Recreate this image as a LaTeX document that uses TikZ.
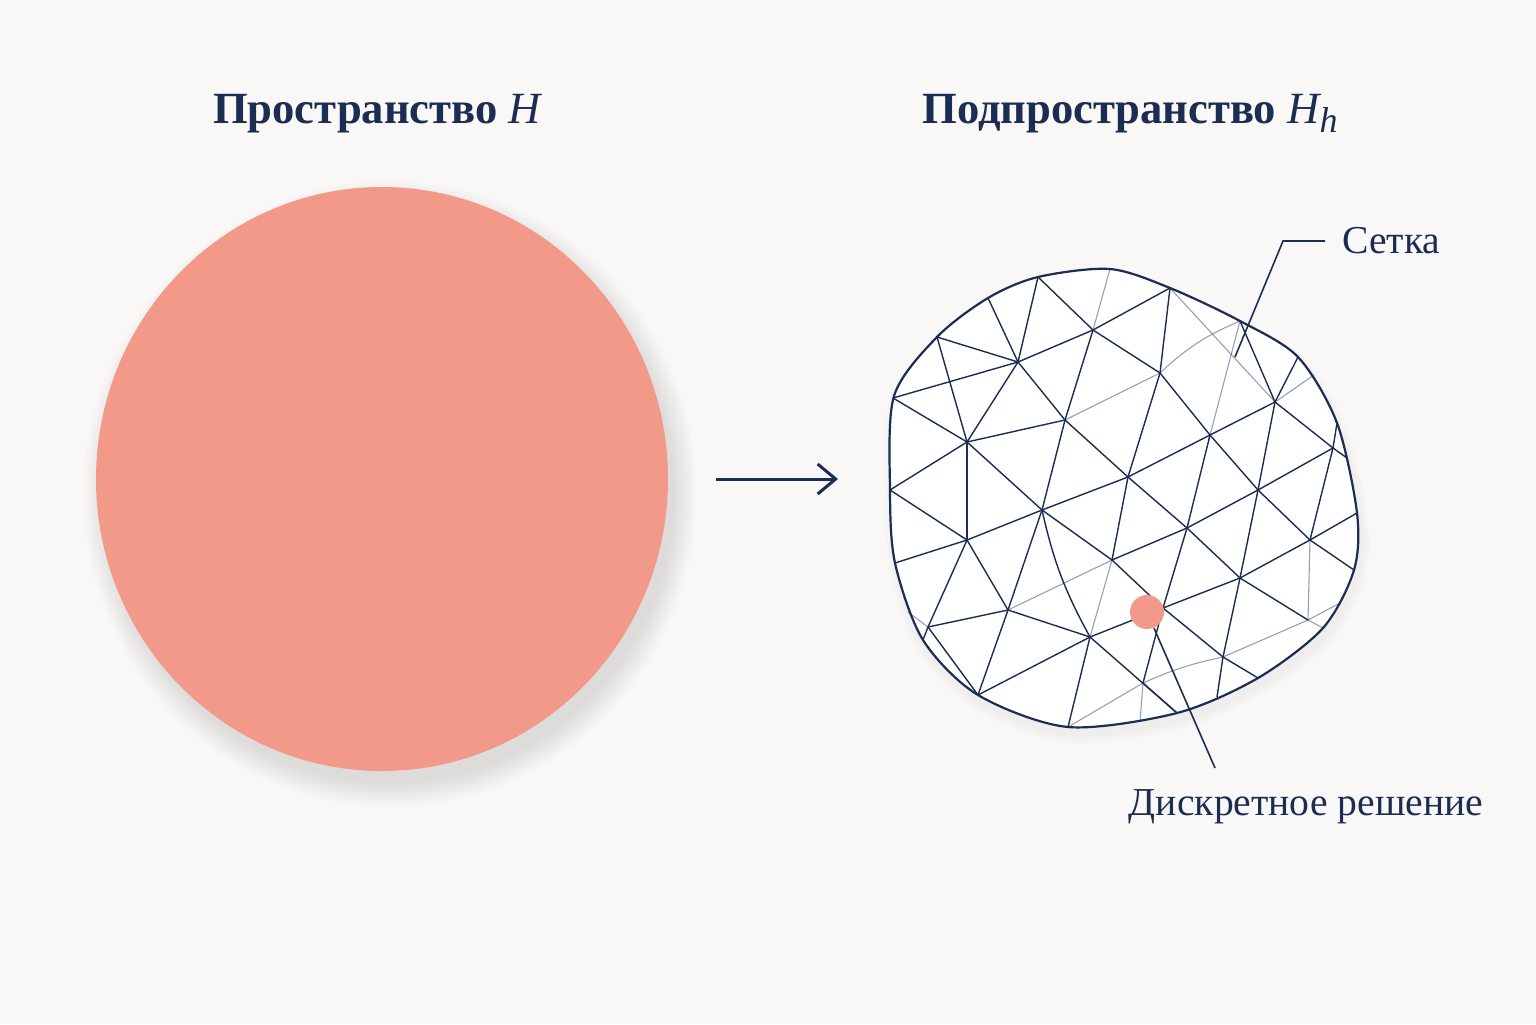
\documentclass[tikz,border=0pt]{standalone}
\usepackage{fontspec}
\setmainfont{Liberation Serif}
\usetikzlibrary{arrows.meta}
\definecolor{navy}{HTML}{1B2D52}
\definecolor{salmon}{HTML}{F3998A}
\definecolor{bgc}{HTML}{F9F8F6}
\tikzset{
  titletext/.style={font=\fontsize{22.3}{26}\selectfont\bfseries, text=navy, inner sep=0pt},
  labeltext/.style={font=\fontsize{19.8}{24}\selectfont, text=navy, inner sep=0pt},
  meshedge/.style={draw=navy, line width=0.7pt},
  lightedge/.style={draw=navy, line width=0.55pt, opacity=0.45},
  outline/.style={draw=navy, line width=1pt, fill=white},
  leader/.style={draw=navy, line width=0.8pt},
}
\begin{document}
\begin{tikzpicture}[x=0.5pt,y=-0.5pt]
\fill[bgc] (0,0) rectangle (1536,1024);
\useasboundingbox (0,0) rectangle (1536,1024);

% titles
\node[titletext, anchor=base] (t1) at (377,123) {Пространство {\mdseries\itshape H}};
\node[titletext, anchor=base] (t2) at (1130,123) {Подпространство {\mdseries\itshape H\raisebox{-4.5pt}{\fontsize{18}{18}\selectfont h}}};

% big circle with soft shadow
\foreach \k in {1,...,14} {
  \fill[black, opacity=0.006] (390,494) ellipse ({282+\k*1.8} and {288+\k*1.8});
}
\fill[salmon] (382,479) ellipse (286 and 292);
\coordinate (bigc) at (382,479);

% arrow
\coordinate (a1) at (716,479);
\coordinate (a2) at (838,479);
\draw[navy, line width=1.5pt, -{Straight Barb[length=9pt,width=15pt,line width=1.5pt]}] (a1) -- (a2);

% mesh coordinates
\coordinate (b1) at (893,398);
\coordinate (b2) at (937,337);
\coordinate (b3) at (988,298);
\coordinate (b4) at (1038,277);
\coordinate (b5) at (1110,269);
\coordinate (b6) at (1170,288);
\coordinate (b7) at (1240,321);
\coordinate (b8) at (1298,357);
\coordinate (b9) at (1314,375);
\coordinate (b10) at (1337,423);
\coordinate (b11) at (1347,458);
\coordinate (b12) at (1357,513);
\coordinate (b13) at (1354,570);
\coordinate (b14) at (1340,603);
\coordinate (b15) at (1323,628);
\coordinate (b17) at (1258,678);
\coordinate (b18) at (1217,697);
\coordinate (b19) at (1177,713);
\coordinate (b20) at (1140,722);
\coordinate (b21) at (1068,727);
\coordinate (b22) at (978,695);
\coordinate (b23) at (923,640);
\coordinate (b24) at (908,612);
\coordinate (b25) at (895,563);
\coordinate (b26) at (890,490);

\coordinate (i1) at (1018,362);
\coordinate (i2) at (1093,330);
\coordinate (i3) at (1160,373);
\coordinate (i4) at (1065,420);
\coordinate (i5) at (967,442);
\coordinate (i6) at (1210,435);
\coordinate (i7) at (1275,402);
\coordinate (i8) at (1333,448);
\coordinate (i9) at (1128,477);
\coordinate (i10) at (1042,510);
\coordinate (i11) at (1258,490);
\coordinate (i12) at (967,540);
\coordinate (i13) at (1187,528);
\coordinate (i14) at (1310,540);
\coordinate (i15) at (1112,560);
\coordinate (i16) at (1240,578);
\coordinate (i17) at (1008,610);
\coordinate (i18) at (1163,608);
\coordinate (i19) at (928,627);
\coordinate (i20) at (1090,637);
\coordinate (i21) at (1308,620);
\coordinate (i22) at (1223,657);
\coordinate (i23) at (1143,683);

\def\blobpath{plot[smooth cycle] coordinates {
    (890,490) (894,396) (937,337) (988,298) (1038,277) (1110,269) (1170,288) (1240,321) (1298,357) (1337,423) (1357,513) (1354,570) (1323,628) (1258,678) (1177,713) (1068,727) (978,695) (923,640) (895,563)}}
% blob shadow
\foreach \k in {1,...,10} {
  \fill[black, opacity=0.005, shift={(3,8)}, scale around={1+\k*0.004:(1123,498)}] \blobpath;
}
% blob
\fill[white] \blobpath;

% mesh edges
\foreach \p/\q in {b2/i1, b2/i5, b3/i1, b4/i1, b4/i2, b6/i2, b6/i3, b1/i1, b1/i5,
  i1/i4, i1/i5, i1/i2, i2/i4, i2/i3, i4/i5, i4/i10, i4/i9, i3/i9, i3/i6, i6/i7,
  b7/i7, b8/i7, i7/i8, b10/i8, i8/b11, i7/i11, i6/i9, i6/i11, i6/i13, i8/i11, i8/i14,
  i11/i14, i11/i13, i11/i16, i14/b12, i14/b13, i14/i16, i13/i9, i13/i15, i13/i16,
  i13/i18, i9/i10, i9/i15, i10/i5, i10/i12, i10/i15, i10/i17, i5/b26, i5/i12,
  b26/i12, i12/b25, i12/i17, i12/i19, i15/i18, i16/i18, i16/i22, i16/i21, i18/i20,
  i18/i22, i18/i23, i17/i19, i17/i20, i17/b22, i19/b22, i20/b22, i20/b21, i20/b19,
  i22/b18, i22/b17, i23/b19, i19/b23}
  \draw[meshedge] (\p) -- (\q);
\draw[meshedge] (i10) to[bend right=8] (i20);

\foreach \p/\q in {b5/i2, b7/i6, i4/i3, b9/i7, b6/i7, i14/i21, i15/i17, i15/i20,
  i19/b24, i22/i21, i23/b21, i21/b14, i21/b15, i23/b20}
  \draw[lightedge] (\p) -- (\q);
\draw[lightedge] (b7) to[bend right=10] (i3);
\draw[lightedge] (i23) to[bend left=6] (i22);

% outline stroke
\draw[navy, line width=1.1pt] \blobpath;

% discrete solution dot
\node[circle, fill=salmon, minimum size=17pt, inner sep=0pt] (dot) at (1147,612) {};

% labels and leaders
\node[labeltext, anchor=base west] (setka) at (1342,253) {Сетка};
\coordinate (sl1) at (1325,241);
\coordinate (sl2) at (1283,241);
\coordinate (sl3) at (1235,357);
\draw[leader] (sl1) -- (sl2) -- (sl3);

\node[labeltext, anchor=base] (disc) at (1306,815) {Дискретное решение};
\coordinate (dl) at (1215,768);
\draw[leader] (dot) -- (dl);
\end{tikzpicture}
\end{document}
